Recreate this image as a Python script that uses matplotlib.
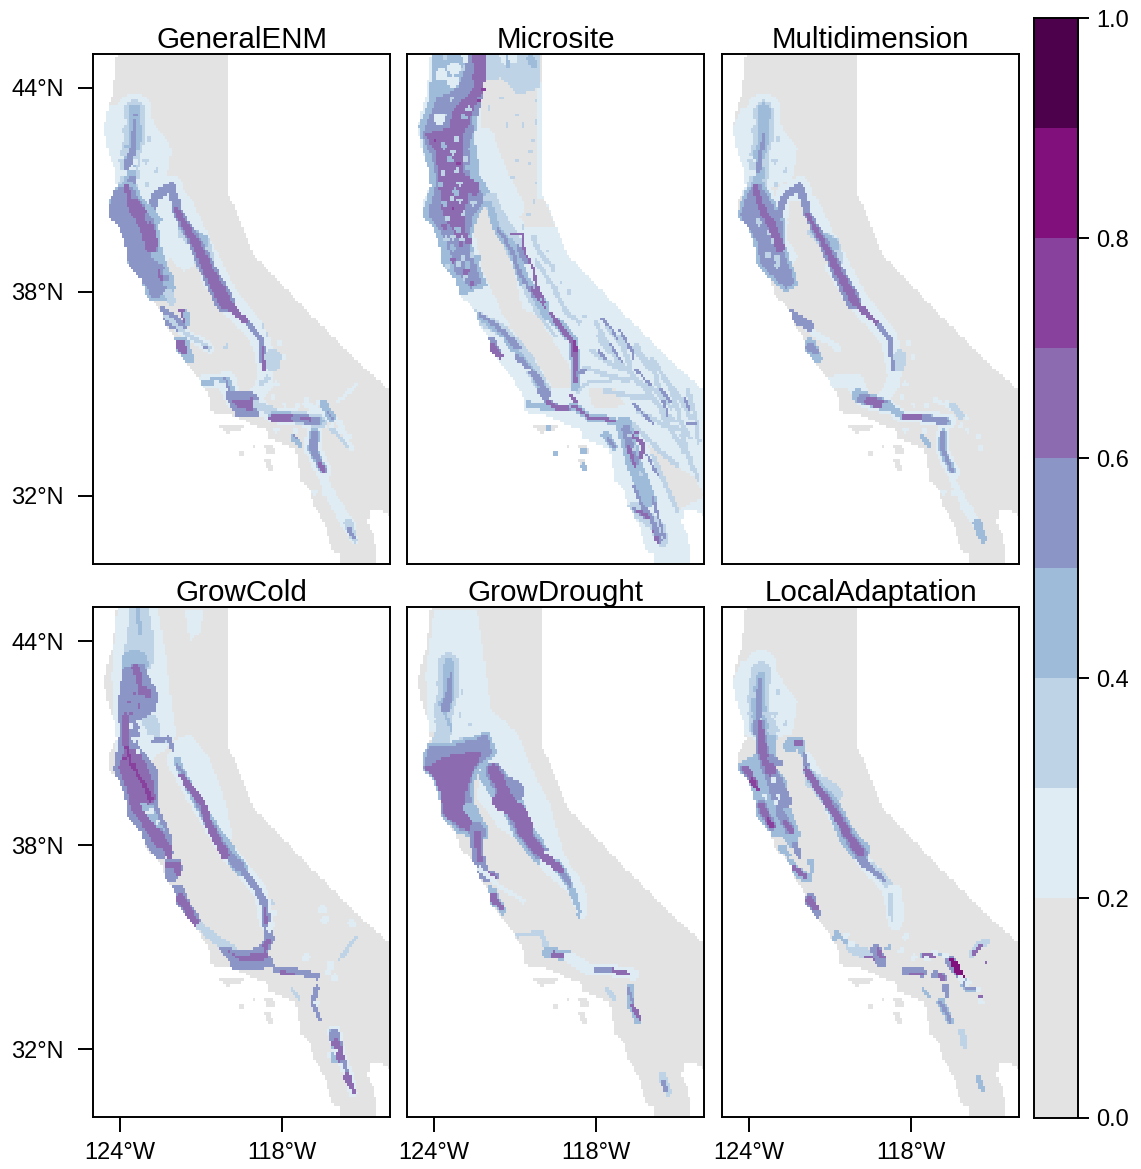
import numpy as np
import matplotlib
matplotlib.use("Agg")
import matplotlib.pyplot as plt
from matplotlib.colors import ListedColormap, BoundaryNorm
from matplotlib.path import Path

plt.rcParams['font.family'] = ['Liberation Sans', 'DejaVu Sans']

W, H = 1141, 1169
titles = ["GeneralENM", "Microsite", "Multidimension", "GrowCold", "GrowDrought", "LocalAdaptation"]
breaks = [0, .2, .3, .4, .5, .6, .7, .8, .9, 1]
colors = ["#E3E3E3", "#E0ECF4", "#BFD3E6", "#9EBCDA", "#8C96C6", "#8C6BB1", "#88419D", "#810F7C", "#4D004B"]
V0, V2, V3, V4, V5, V6, V7, V8 = .1, .25, .35, .45, .55, .65, .75, .85

# outline of the study area, lon/lat
land = [(-124.11,45),(-124.19,44.4),(-124.26,43.8),(-124.44,43.43),(-124.59,42.8),(-124.44,42.16),(-124.2,41.67),
        (-124.11,41.08),(-124.44,40.7),(-124.44,40.2),(-124.07,40),(-123.83,39.5),(-123.7,38.82),(-123.15,38.33),
        (-123.09,37.94),(-122.47,37.47),(-122.35,37.08),(-121.98,36.64),(-121.85,36.2),(-121.42,35.8),(-120.93,35.26),
        (-120.68,34.87),(-120.65,34.48),(-119.69,34.35),(-118.95,34.04),(-118.49,33.94),(-118.46,33.7),(-117.47,33.35),
        (-117.32,32.47),(-116.91,32.13),(-116.85,31.78),(-116.36,31.1),(-116.17,30.41),(-115.86,30.31),(-115.86,30),
        (-114.5,30),(-114.5,30.2),(-114.57,30.8),(-114.81,31.2),(-114.75,31.6),(-114.5,31.63),(-114,31.44),
        (-114,35.12),(-115.12,35.9),(-117.1,37.47),(-119.07,39.12),(-119.44,39.9),(-120,40.93),(-120,45)]
islands = [[(-120.55,34.1),(-119.33,34.1),(-119.55,33.95),(-120.05,33.85),(-120.2,34)],
           [(-119.6,33.3),(-119.42,33.3),(-119.42,33.15),(-119.6,33.15)],
           [(-119.1,33.5),(-119,33.5),(-119,33.42),(-119.1,33.42)],
           [(-118.65,33.5),(-118.25,33.45),(-118.25,33.25),(-118.55,33.25)],
           [(-118.65,33.07),(-118.45,33.05),(-118.3,32.7),(-118.5,32.75)]]

# ridge lines shared by the panels
klamath = [(-123.45,43.35),(-123.45,42.5),(-123.65,41.95),(-123.6,41.5),(-123.75,41.05),(-123.65,40.7),(-123.4,40.3),(-122.95,39.7),(-122.7,39.2)]
arc = [(-122.95,40.15),(-122.65,40.85),(-122.1,41.1),(-121.9,40.5)]
sierra = [(-121.9,40.5),(-121.3,39.6),(-120.7,38.75),(-120.05,37.85),(-119.55,37.35),(-119.25,37.1),(-118.85,36.7),(-118.7,36.3),(-118.6,35.7)]
sierra_south = [(-118.6,35.7),(-118.65,35.3),(-118.95,34.95),(-119.1,34.75)]
tehachapi = [(-120.9,35.35),(-120.0,35.42),(-119.8,34.85),(-119.35,34.72),(-118.95,34.68)]
coast_south = [(-122.3,37.3),(-121.48,36.73),(-120.93,36.49),(-120.68,36.34)]
gabriel = [(-118.95,34.68),(-118.3,34.35),(-117.5,34.32),(-116.6,34.2)]
jacinto = [(-116.8,33.85),(-116.85,33.4),(-116.6,32.95),(-116.45,32.75)]
santa_ana = [(-117.6,33.74),(-117.35,33.5)]
baja = [(-115.55,31.2),(-115.3,30.7)]
lucia = [(-121.75,36.45),(-121.45,36.05)]
bay = [(-122.4,37.3),(-121.75,37.0)]
peninsular = [(-116.6,32.75),(-116.1,31.9),(-115.5,31.1)]
north_coast = [(-124.2,41),(-123.6,41.1),(-123.2,40.6),(-122.75,40.1),(-122.65,39.4),(-122.5,38.9),(-122.2,38.4),(-122.2,37.95),
               (-122.75,37.85),(-123.15,38.3),(-123.65,38.75),(-123.85,39.55),(-124.3,40.1),(-124.45,40.3)]
north_halo = [(-124.6,42.8),(-124.3,43.4),(-123.5,43.55),(-122.9,43),(-122.2,42.2),(-122.4,41.3),(-123.5,41),(-124.3,41.3)]
valley_north = [(-122.45,40.7),(-122.1,40.7),(-121.75,39.9),(-121.1,38.9),(-121.3,38.4),(-122.05,38.9),(-122.6,39.6)]
great_basin = [(-122.7,45),(-120,45),(-120,40.9),(-119.5,39.9),(-120.6,39.9),(-121.3,41),(-122.15,42.1),(-122.3,43.5)]
valley = [(-122.42,40.6),(-122.1,40.7),(-121.74,39.9),(-121,38.6),(-120.75,37.55),(-120.13,37.27),(-118.9,35.7),(-118.84,35.12),
          (-119.64,35.2),(-120.38,36.2),(-121.24,36.98),(-122.23,38.7),(-122.6,40.1)]
mojave_gray = [(-118.3,35.2),(-117.3,35.2),(-116.9,34.65),(-118.1,34.55)]
desert_gray = [(-116.1,33.5),(-114.3,32.5),(-114,32),(-114.9,31.6),(-115.6,32.6)]

# speckle spots around the northern stalk, shared by a few panels
stalk_spots_light = [(-124,42.8),(-124.05,42.3),(-123.9,41.9),(-122.9,42.2),(-123,41.9),(-122.75,41.7),(-123,41.3),(-122.55,41.4),(-123.9,41.5),(-122.9,42.8),(-123.85,43)]
stalk_spots_mid = [(-123.85,42.75),(-123.75,42.4),(-122.95,42.5),(-123.05,41.85),(-123.95,41.85),(-123.9,41.65),(-122.65,41.55),(-123,41.15)]
stalk_holes = [(-123.55,41.65),(-123.2,41.6),(-123.3,41.25),(-123.1,41.05),(-122.95,41.4),(-123.4,41.85)]
edge_spots_south = [(-120.2,35.1),(-120.4,35.35),(-118.2,35.3),(-118.35,34.9),(-117.9,34.7),(-117.4,34.65),(-117.1,34.85),(-116.7,34.75),(-116.15,34.05),(-115.9,33.95),
                    (-115.5,33.75),(-115.4,33.4),(-117.5,33.9),(-118.2,33.95),(-116.3,32.6),(-116.4,32.1),(-116.05,31.6),(-116.8,32.1),(-118.1,36.5),(-117.9,36.1)]

# panel layers: (kind, shape, value, width start, width end), painted in order
general_layers = [
    ("p", north_halo, V2, .1, .1),
    ("s", klamath, V2, .5, .5), ("s", arc, V2, .35, .35), ("s", sierra, V2, .5, .25),
    ("p", valley_north, V2, 0, 0),
    ("p", [(-121.6,38.6),(-120.9,37.9),(-121.1,38.9)], V0, 0, 0),
    ("s", tehachapi, V2, .2, .3), ("s", gabriel, V2, .2, .25), ("s", jacinto, V2, .25, .25),
    ("s", peninsular, V2, .12, .2), ("s", coast_south, V2, .15, .15), ("s", sierra_south, V2, .25, .25), ("s", baja, V2, .15, .12),
    ("s", [(-117.1,34.7),(-115.9,34.2),(-115.5,33.5)], V2, .1, .08), ("s", [(-115.2,35.3),(-115.9,34.8)], V2, .06, .06),
    ("s", klamath[:3], V3, .3, .3), ("s", klamath[:3], V4, .18, .22), ("s", klamath[2:5], V3, .3, .28), ("s", klamath[2:5], V4, .14, .16),
    ("d", stalk_spots_light, V2, .1, .1), ("d", stalk_spots_mid, V3, .08, .08),
    ("s", [(-123.45,43.05),(-123.5,42.3),(-123.7,41.7)], V5, .03, .14),
    ("d", [(-123.45,43.2)], V5, .07, .07), ("s", [(-123.5,41.35),(-123.75,41.05)], V5, .1, .16),
    ("d", stalk_holes, V2, .08, .08),
    ("p", north_coast, V4, 0, .14), ("p", north_coast, V5, 0, .02),
    ("s", [(-123.75,41.15),(-123.6,40.5),(-123.1,39.9),(-122.85,39.3)], V6, .06, .16),
    ("s", [(-123.45,40.55),(-123,39.95),(-122.8,39.45)], V6, .2, .18),
    ("s", [(-122.55,38.6),(-122.45,38.35)], V6, .05, .05),
    ("s", [(-122.75,39.1),(-122.4,38.9)], V4, .1, .1), ("d", [(-122.3,38.6),(-122.25,38.25),(-122.1,38.1)], V4, .12, .12),
    ("s", [(-122.2,37.95),(-122.05,37.7)], V3, .15, .1),
    ("s", arc, V5, .12, .14), ("s", [(-122.9,40.45),(-122.55,40.1)], V4, .12, .08),
    ("s", [(-121.6,39.75),(-120.95,39.4),(-120.85,38.9)], V3, .2, .3), ("s", [(-121.6,39.85),(-121,39.5)], V4, .16, .22),
    ("s", [(-121.9,40.4),(-121.2,39.45),(-120.7,38.6),(-120.1,37.7)], V5, .14, .3),
    ("s", [(-121.9,40.4),(-121.2,39.45),(-120.7,38.6),(-120.1,37.7)], V6, .08, .2),
    ("s", [(-120.1,37.7),(-119.55,37.3),(-119.2,37.05)], V6, .14, .08),
    ("s", [(-119.2,37.05),(-118.75,36.6),(-118.67,35.75)], V5, .09, .08), ("s", [(-118.72,36.35),(-118.65,35.7)], V6, .06, .05),
    ("s", [(-118.33,36.1),(-118.33,35.85)], V3, .25, .2), ("d", [(-118.55,35.45),(-118.75,35.35)], V3, .1, .1),
    ("s", bay, V5, .25, .18), ("s", [(-121.7,37.45),(-121.6,37.15)], V6, .08, .05), ("s", [(-121.55,37.4),(-121.5,37.1)], V4, .08, .07),
    ("s", lucia, V4, .26, .17), ("s", [(-121.75,36.45),(-121.6,36.25)], V6, .16, .12),
    ("s", coast_south, V3, .07, .06), ("d", [(-120.82,36.4),(-120.7,36.32)], V5, .06, .06),
    ("s", tehachapi[:3], V4, .08, .12), ("s", [(-120.1,35.45),(-119.95,35.1),(-119.45,34.9)], V5, .04, .05),
    ("p", [(-119.95,34.95),(-119.05,34.92),(-118.85,34.62),(-119,34.42),(-119.6,34.45)], V5, 0, .12),
    ("p", [(-119.92,34.85),(-119.05,34.88),(-118.95,34.6),(-119.2,34.5),(-119.6,34.6)], V6, 0, 0),
    ("s", [(-118.95,34.7),(-118.3,34.45)], V3, .12, .14),
    ("s", gabriel[1:], V3, .18, .2), ("s", gabriel[1:], V4, .14, .12), ("s", [(-118.3,34.32),(-117.55,34.32)], V6, .13, .13), ("s", [(-117.5,34.3),(-116.75,34.2)], V5, .11, .16),
    ("s", [(-117.25,34.28),(-116.95,34.25)], V6, .05, .05),
    ("s", jacinto[:2], V4, .16, .16), ("s", jacinto[1:], V4, .14, .12), ("s", jacinto[:2], V5, .1, .12), ("s", jacinto[1:], V5, .12, .08), ("s", jacinto[2:], V6, .07, .05),
    ("s", santa_ana, V4, .09, .09), ("s", [(-117.55,33.85),(-117.4,33.65)], V5, .03, .03),
    ("s", [(-116.5,34.75),(-116.15,34.3)], V4, .12, .12), ("s", [(-116.3,34.45),(-116.1,34.25)], V5, .04, .04),
    ("s", [(-116.15,34),(-115.55,33.45)], V3, .07, .06),
    ("s", baja, V3, .14, .09), ("s", [(-115.5,31),(-115.35,30.8)], V5, .06, .06),
    ("d", [(-120.7,36.35),(-120.05,36.4),(-118.55,36.75),(-118.7,37)], V3, .07, .07),
    ("d", edge_spots_south, V2, .08, .08),
]

multi_layers = [
    ("p", north_halo, V2, 0, 0),
    ("s", klamath, V2, .5, .45), ("s", arc, V2, .3, .3), ("s", sierra, V2, .42, .25),
    ("p", valley_north, V0, 0, 0),
    ("s", tehachapi, V2, .18, .25), ("s", gabriel, V2, .18, .22), ("s", jacinto, V2, .2, .2),
    ("s", peninsular, V2, .08, .15), ("s", coast_south, V2, .1, .1), ("s", sierra_south, V2, .2, .2), ("s", baja, V2, .15, .1),
    ("s", [(-117,34.8),(-115.9,34.3)], V2, .07, .05),
    ("s", klamath[:5], V3, .28, .28), ("s", klamath[:3], V4, .2, .16), ("s", klamath[2:5], V4, .12, .16),
    ("d", stalk_spots_light, V2, .1, .1), ("d", stalk_spots_mid, V3, .08, .08),
    ("s", [(-123.45,42.6),(-123.65,41.6)], V5, .03, .1),
    ("p", [(-124,41),(-123.55,41.15),(-123,40.4),(-122.75,40.05),(-122.8,39.4),(-122.5,38.75),(-122.3,38.25),(-122.65,38.1),(-123.3,38.6),(-123.6,38.9),(-123.7,39.5),(-124.2,40.1),(-124.3,40.3)], V4, 0, .1),
    ("p", [(-124,41),(-123.55,41.15),(-123,40.4),(-122.75,40.05),(-122.8,39.4),(-122.5,38.75),(-122.3,38.25),(-122.65,38.1),(-123.3,38.6),(-123.6,38.9),(-123.7,39.5),(-124.2,40.1),(-124.3,40.3)], V5, 0, 0),
    ("d", [(-123.05,39.5),(-123.3,39.1),(-122.95,38.8),(-123.65,40.05),(-122.95,39),(-123.2,39.75)], V3, .1, .1),
    ("s", [(-123.75,41.05),(-123.55,40.5),(-123.1,39.9),(-122.85,39.3)], V6, .09, .14),
    ("s", arc, V5, .1, .12), ("s", [(-121.6,39.75),(-120.9,39.4),(-120.8,39)], V3, .18, .25),
    ("s", [(-121.6,39.8),(-120.9,39.4)], V4, .12, .2),
    ("s", [(-121.9,40.4),(-121.2,39.4),(-120.7,38.6),(-120.1,37.7)], V5, .1, .24),
    ("s", [(-121.85,40.3),(-121.2,39.4),(-120.7,38.6),(-120.05,37.7)], V6, .05, .14),
    ("s", [(-120.05,37.7),(-119.55,37.3),(-119.2,37.05)], V6, .1, .06),
    ("s", [(-119.2,37.05),(-118.75,36.6),(-118.67,35.75)], V5, .07, .07),
    ("s", [(-118.4,36.1),(-118.4,35.8)], V3, .2, .15),
    ("s", bay, V5, .18, .14), ("s", lucia, V4, .2, .13), ("s", [(-121.72,36.4),(-121.55,36.25)], V5, .13, .1),
    ("s", [(-119.95,34.95),(-118.9,34.65)], V4, .2, .18),
    ("s", [(-119.8,34.87),(-118.95,34.7)], V5, .15, .15), ("s", [(-119.55,34.78),(-119.1,34.72)], V6, .13, .13),
    ("s", gabriel, V4, .1, .1), ("s", [(-118.2,34.33),(-117.6,34.32)], V6, .09, .09), ("s", [(-117.5,34.3),(-116.75,34.2)], V5, .1, .12),
    ("s", jacinto, V4, .12, .1), ("s", jacinto, V5, .07, .05), ("s", santa_ana, V4, .07, .07),
    ("s", baja, V4, .14, .1), ("s", [(-116.45,34.65),(-116.15,34.35)], V3, .12, .1),
    ("d", edge_spots_south, V2, .08, .08),
]

cold_layers = [
    ("p", [(-124.1,45),(-122.6,45),(-122.3,43.6),(-122.1,42.2),(-121.9,41.2),(-122.3,40.8),(-123.8,40),(-124.2,40.8),(-124.3,43)], V2, 0, 0),
    ("p", [(-121.6,44.9),(-120.9,44.9),(-121,44.3),(-121.4,44)], V2, 0, 0),
    ("p", [(-121.4,41.3),(-120.7,40.6),(-120.2,39.6),(-119.8,38.2),(-120.2,37.9),(-121.5,39.5),(-122.1,41)], V2, 0, 0),
    ("p", valley_north, V0, 0, 0),
    ("s", [(-123.3,45),(-123.25,44.2),(-123.3,43.5)], V3, .3, .45), ("s", [(-123.35,45),(-123.25,44.2)], V4, .05, .08),
    ("s", klamath[:5], V4, .4, .25), ("s", [(-122.85,41.6),(-122.65,41.1),(-122.3,41.05)], V3, .25, .06),
    ("p", [(-123.8,43.2),(-123.2,43.3),(-122.65,42.4),(-122.75,42),(-123.3,41.7),(-123.4,40.9),(-122.65,40.2),(-122.7,39.2),(-122.2,38.35),(-122.1,37.75),(-122.6,37.6),(-123.15,38.2),(-123.65,38.85),(-123.85,39.55),(-124.15,40.25),(-123.95,41.2),(-124,42.3)], V5, 0, .06),
    ("s", [(-122.7,41.05),(-122.2,41.15),(-122,40.7)], V5, .08, .06),
    ("s", [(-123.4,43.2),(-123.25,42.8)], V6, .12, .1), ("s", [(-123.2,42.55),(-122.95,42.45)], V6, .14, .12),
    ("d", [(-123.45,42.45),(-123.65,42.2),(-123.6,41.9),(-123.3,42.1)], V6, .06, .06),
    ("p", [(-123.75,40.9),(-123.25,40.75),(-122.9,40.15),(-122.72,39.8),(-122.7,39.3),(-123,39.15),(-122.6,38.65),(-122.35,38.3),(-122.6,37.85),(-122.9,38.25),(-123.3,38.75),(-123.6,39.1),(-123.75,39.7),(-124.05,40.3)], V6, 0, 0),
    ("s", [(-123.8,41.8),(-123.75,40.9)], V6, .08, .1),
    ("s", [(-123.75,40.9),(-123.6,40.4),(-123.15,39.85),(-122.85,39.35)], V7, .04, .07),
    ("d", [(-123.85,40.55),(-123.45,40.35),(-123.6,40.65)], V7, .05, .05),
    ("p", [(-123.25,39.3),(-122.8,39.15),(-122.35,38.45),(-122.7,38.55),(-123.1,38.95)], V4, 0, 0),
    ("s", [(-122.75,38.4),(-122.25,37.95),(-122.2,37.7)], V6, .16, .1),
    ("d", [(-123,38.95),(-122.85,39),(-122.6,38.7),(-123.2,41.4),(-123.45,41.1),(-123.3,41.6),(-123.35,40.75),(-123.6,41.5),(-122.85,41.15)], V2, .08, .08),
    ("s", sierra, V2, .3, .2), ("s", [(-121.9,40.5),(-121.4,39.65),(-120.7,38.7),(-120,37.85),(-119.5,37.3)], V4, .1, .22),
    ("s", [(-121.9,40.4),(-121.3,39.55),(-120.75,38.75),(-120.1,37.85),(-119.55,37.35)], V5, .05, .14),
    ("s", [(-121.75,40.05),(-120.95,39.25),(-120.7,38.6),(-120.1,37.7)], V6, .08, .13),
    ("s", [(-119.55,37.35),(-118.95,36.75),(-118.65,36.3),(-118.58,35.75),(-118.45,35.25),(-118.75,34.85)], V5, .08, .16),
    ("s", [(-118.6,36.1),(-118.58,35.7)], V6, .04, .04), ("s", [(-118.5,35.2),(-118.75,34.85)], V6, .08, .12),
    ("d", [(-118.35,35.7),(-118.3,36),(-118.45,35.55)], V2, .1, .1), ("d", [(-118.35,36.3)], V3, .08, .08),
    ("p", [(-122.3,37.55),(-121.8,37.55),(-121.7,37.3),(-122.0,36.95),(-122.3,37)], V5, 0, .04),
    ("s", [(-122.25,37.4),(-121.9,37.45),(-121.85,37.15)], V6, .1, .08),
    ("s", [(-121.85,36.65),(-121.6,36.2),(-121.1,35.65)], V5, .22, .16), ("s", [(-121.75,36.45),(-121.2,35.7)], V6, .13, .1),
    ("s", [(-121,35.6),(-120.4,35.2),(-119.9,34.95)], V3, .12, .16),
    ("p", [(-120.2,34.95),(-119.5,34.8),(-118.75,34.95),(-118.4,34.55),(-118.9,34.4),(-119.7,34.4)], V5, 0, .08),
    ("p", [(-120.0,34.9),(-119.6,34.7),(-119.1,34.8),(-118.55,34.9),(-118.5,34.7),(-118.8,34.55),(-119.5,34.55)], V6, 0, 0),
    ("s", [(-118.4,34.55),(-118.2,34.3),(-117.6,34.3)], V5, .05, .14), ("s", [(-117.4,34.25),(-116.7,34.15)], V5, .08, .12),
    ("s", [(-118,34.25),(-117.6,34.2)], V6, .07, .06),
    ("s", [(-116.7,33.8),(-116.85,33.4),(-116.6,32.85)], V5, .08, .06), ("d", [(-116.7,33.35)], V2, .08, .08), ("s", santa_ana, V3, .06, .06),
    ("s", [(-115.25,35.3),(-115.6,34.9),(-115.9,34.6)], V3, .06, .05), ("d", [(-116.3,34.25),(-116.2,34.45),(-116.4,35.8),(-116.5,36.1),(-115.4,35.7),(-116.05,34.1),(-117.1,34.7)], V2, .12, .12),
    ("s", [(-116.05,32.5),(-115.85,31.8),(-115.55,31.3),(-115.35,30.7)], V2, .2, .12),
    ("s", [(-116.05,32.45),(-115.95,32),(-116.05,31.7)], V4, .16, .12),
    ("s", [(-116.05,32.4),(-115.85,31.85),(-115.6,31.4)], V5, .18, .06),
    ("s", [(-116,32.2),(-115.85,31.75)], V6, .12, .13), ("s", [(-115.6,31.2),(-115.3,30.7)], V6, .12, .05),
    ("d", [(-116.25,31.85),(-116.05,31.95)], V2, .08, .08),
]

drought_core = [(-124.39,40.25),(-124.2,40.9),(-123.47,40.9),(-122.42,41.13),(-122.05,41.27),(-121.8,40.7),(-122.42,40.3),(-122.66,39.8),(-122.6,39.2),
                (-122.1,38.43),(-122.1,38.24),(-123.03,38.43),(-123.71,38.92),(-123.77,39.5),(-124.02,40)]
drought_purple = [(-124.39,40.25),(-123.6,40.6),(-122.5,40.75),(-122.2,40.75),(-122.5,40.25),(-122.75,39.8),(-122.85,39.2),(-122.5,38.55),(-122.45,38.35),(-123,38.5),(-123.65,38.9),(-123.75,39.5),(-124.02,40)]
drought_layers = [
    ("p", [(-124,44.9),(-122.4,44.9),(-122.1,43.3),(-121.9,42),(-120.9,41.3),(-120.4,40.3),(-119.7,39.2),(-119.1,37.5),(-120,37.3),(-121.2,39),(-122,40.5),(-123,40.8),(-124.2,41.4),(-124.3,43)], V2, 0, 0),
    ("p", [(-122.3,40.5),(-121.95,40.25),(-121.2,39),(-120.7,38.1),(-121.6,38.5),(-122.4,39.4)], V2, 0, 0),
    ("s", klamath[:3], V3, .3, .3), ("s", klamath[:3], V4, .14, .2),
    ("s", klamath[2:5], V3, .2, .26), ("s", [(-123.4,43.1),(-123.45,42.4),(-123.6,42)], V5, .02, .14),
    ("s", [(-123.6,41.9),(-123.35,41.4)], V4, .05, .05), ("d", stalk_spots_mid, V3, .06, .06),
    ("p", drought_core, V4, 0, .1), ("p", drought_core, V5, 0, 0),
    ("p", drought_purple, V6, 0, 0),
    ("s", [(-122.7,39.1),(-122.4,38.8)], V4, .16, .16),
    ("s", [(-122.45,38.45),(-122.35,37.6),(-122.1,37.1),(-121.8,37.05)], V5, .2, .16),
    ("s", [(-122.4,38.35),(-122.3,37.55)], V6, .1, .08), ("s", [(-122,37.15),(-121.75,37.05)], V6, .08, .06),
    ("s", [(-121.85,40.05),(-121.1,39.2),(-120.65,38.35),(-120,37.7),(-119.4,37.3)], V4, .38, .26),
    ("s", [(-121.6,39.9),(-121,39.6)], V5, .2, .3),
    ("s", [(-121.8,40.2),(-121.12,39.12),(-120.63,38.33),(-120,37.75),(-119.2,37.3)], V5, .25, .2),
    ("s", [(-121.8,40.2),(-121.12,39.12),(-120.63,38.33),(-120,37.75),(-119.3,37.3)], V6, .18, .14),
    ("s", [(-121.5,39.3),(-120.9,39),(-120.6,38.5)], V6, .28, .22),
    ("s", [(-119.5,37.4),(-118.95,36.8),(-118.7,36.3),(-118.6,35.9)], V4, .16, .08),
    ("s", [(-119.4,37.3),(-118.95,36.85)], V5, .1, .06),
    ("s", [(-119.6,37.5),(-118.7,36.7),(-118.5,36)], V2, .4, .15), ("s", [(-119.4,37.4),(-118.95,36.8),(-118.7,36.3),(-118.6,36.0)], V4, .16, .06),
    ("s", [(-119.35,37.3),(-118.95,36.85)], V5, .1, .06), ("s", [(-119.9,37.65),(-119.25,37.25)], V6, .14, .1),
    ("s", [(-121.9,36.6),(-121.45,36.05)], V4, .2, .1), ("s", [(-121.8,36.45),(-121.5,36.15)], V6, .12, .07),
    ("s", coast_south, V2, .08, .06), ("s", tehachapi, V3, .06, .1),
    ("s", [(-119.8,34.85),(-118.95,34.72)], V4, .16, .16), ("s", [(-119.55,34.78),(-119.05,34.72)], V6, .1, .1),
    ("s", gabriel, V2, .18, .18), ("s", [(-118,34.33),(-117.5,34.32)], V5, .09, .09), ("s", [(-117.35,34.3),(-116.85,34.22)], V6, .08, .08),
    ("s", [(-116.7,33.8),(-116.7,33.3),(-116.45,32.85)], V4, .12, .1), ("s", [(-116.65,33.3),(-116.4,32.9)], V6, .07, .05),
    ("s", [(-116.8,33.75),(-116.65,33.4)], V5, .05, .05),
    ("s", santa_ana, V3, .07, .07), ("s", baja, V3, .12, .1), ("s", [(-115.5,31),(-115.4,30.8)], V5, .06, .05),
]

local_layers = [
    ("p", north_halo, V2, 0, 0),
    ("s", [(-123.55,43.3),(-123.45,42.2),(-123.2,41.4)], V2, .45, .3), ("s", sierra, V2, .25, .2),
    ("p", valley_north, V0, 0, 0),
    ("s", [(-123.55,43.1),(-123.65,42.4),(-123.6,41.5)], V3, .3, .34), ("s", [(-123.35,41.5),(-123.3,41.1)], V3, .3, .25),
    ("s", [(-123.55,43),(-123.65,42.4),(-123.6,41.5)], V4, .12, .26),
    ("d", stalk_spots_mid, V3, .08, .08),
    ("s", [(-123.6,42.9),(-123.65,42.1),(-123.6,41.3)], V5, .05, .16),
    ("d", stalk_holes, V3, .07, .07),
    ("p", [(-124.4,40.35),(-123.7,40.6),(-123.7,41.3),(-123.1,41.2),(-123.1,40.3),(-122.7,39.9),(-122.6,39.2),(-122.15,38.3),(-122.4,37.95),(-122.75,38.3),(-123.1,38.3),(-123.7,38.95),(-123.8,39.5),(-124.3,40.05)], V4, 0, .06),
    ("s", [(-123.6,41.3),(-123.47,40.69),(-122.97,39.7),(-122.75,39.3)], V5, .16, .26),
    ("s", [(-123.59,41.6),(-123.47,40.69),(-123.2,40.2)], V6, .08, .16),
    ("s", [(-123.2,40.55),(-122.85,40.4)], V5, .1, .08),
    ("s", [(-124.3,40.3),(-124,40),(-123.75,39.75)], V5, .06, .1), ("s", [(-124.1,40.25),(-123.75,39.75)], V6, .1, .09), ("s", [(-123.9,39.9),(-123.7,39.65)], V7, .07, .07),
    ("s", [(-123.55,39.15),(-123.15,38.55)], V5, .16, .12), ("s", [(-123.55,39.15),(-123.15,38.55)], V6, .1, .09), ("s", [(-123.3,38.75),(-123.15,38.55)], V7, .06, .06),
    ("s", [(-122.85,38.95),(-122.48,38.45)], V5, .13, .14), ("s", [(-122.65,38.65),(-122.45,38.45)], V6, .09, .1),
    ("s", [(-122.3,38),(-122.15,37.7)], V5, .09, .08), ("s", [(-122.75,37.9),(-122.55,37.7)], V4, .12, .08), ("d", [(-122.9,39.45),(-123.1,39.9),(-123.4,39.45),(-123,39.25)], V2, .08, .08),
    ("s", [(-122.45,40.95),(-122.1,41),(-122,40.7)], V4, .22, .1), ("s", [(-122.25,40.98),(-122,41)], V6, .08, .05),
    ("s", [(-121.95,40.7),(-121.86,40.2),(-121.4,39.6)], V5, .06, .16),
    ("s", [(-121.6,39.9),(-120.9,39.5)], V3, .25, .3),
    ("s", [(-121.86,40.2),(-120.87,39.12),(-120.3,38.2),(-119.88,37.84)], V4, .14, .3),
    ("s", [(-121.7,39.95),(-120.87,39.12),(-120.25,38.2),(-119.85,37.75)], V5, .08, .2),
    ("s", [(-121.85,40.2),(-121.4,39.6),(-120.9,39.05),(-120.25,38.2),(-119.85,37.75)], V6, .1, .12),
    ("s", [(-119.5,37.4),(-118.95,36.95),(-118.65,36.6)], V3, .14, .14), ("s", [(-119.85,37.55),(-119.4,37.25),(-118.95,36.95)], V5, .12, .06), ("s", [(-118.65,36.6),(-118.55,35.9)], V2, .25, .25),
    ("s", [(-118.75,36.5),(-118.7,35.8)], V3, .08, .06),
    ("s", [(-122.5,37.45),(-122.23,37.2),(-121.85,37.05)], V4, .14, .16), ("s", [(-122.35,37.35),(-121.9,37.05)], V6, .08, .07),
    ("s", [(-121.7,37.5),(-121.65,37.25)], V4, .1, .08),
    ("s", [(-121.72,36.4),(-121.43,35.95)], V5, .17, .08), ("s", [(-121.72,36.35),(-121.55,36.15)], V6, .13, .1),
    ("s", [(-120.85,35.2),(-120.75,35.4),(-120.2,35)], V4, .07, .07),
    ("s", [(-120.2,35),(-119.85,34.85),(-119.15,34.72)], V3, .16, .14),
    ("s", [(-119.7,34.72),(-119,34.65)], V6, .07, .07), ("s", [(-119.3,34.95),(-119.1,34.55)], V5, .15, .15), ("s", [(-119.2,34.9),(-119.1,34.7)], V6, .07, .07),
    ("s", [(-118.95,34.95),(-118.75,35)], V4, .05, .05),
    ("s", [(-118.2,34.28),(-117.55,34.25)], V5, .13, .13), ("s", [(-118,34.22),(-117.6,34.22)], V6, .06, .06),
    ("s", [(-117.1,34.2),(-116.75,34.1)], V5, .12, .1), ("s", [(-116.95,34.2),(-116.8,34.05)], V6, .06, .06),
    ("s", [(-117.6,34.75),(-116.9,34.78)], V4, .07, .06), ("s", [(-117.5,34.75),(-117.15,34.75)], V6, .1, .09),
    ("s", [(-116.6,34.65),(-116.12,34.1)], V5, .14, .11), ("p", [(-116.5,34.62),(-116.25,34.45),(-116.1,34.12),(-116.3,34.25)], V8, 0, .05),
    ("s", [(-116.05,34),(-115.95,33.8),(-115.6,33.75)], V4, .12, .07), ("s", [(-116.05,34),(-115.95,33.8),(-115.6,33.75)], V5, .06, .04),
    ("s", [(-115.75,34.75),(-115.5,35.05),(-115.2,35.15)], V3, .1, .12), ("s", [(-115.7,34.8),(-115.4,35.05)], V6, .06, .06),
    ("d", [(-115.2,34.55),(-115.4,33.55)], V6, .06, .06),
    ("s", [(-117.55,33.8),(-117.35,33.55)], V4, .05, .05), ("s", [(-116.7,33.85),(-116.68,33.6)], V5, .1, .08),
    ("s", [(-116.9,33.4),(-116.55,32.85)], V4, .12, .1), ("s", [(-116.9,33.4),(-116.55,32.85)], V5, .06, .06),
    ("s", [(-116.1,32.5),(-116,32.1)], V3, .1, .1), ("d", edge_spots_south[:12], V2, .1, .1),
    ("s", [(-115.5,31.15),(-115.35,30.8)], V4, .08, .08),
]

# Microsite is much patchier, so it gets extra streaks and spots
micro_streaks = [[(-118,37.1),(-117.6,36.5),(-117.2,35.95)], [(-117.6,37),(-117,36.4),(-116.75,35.85)], [(-117.2,36.7),(-116.5,36.2),(-116,35.7)],
                 [(-116.5,36.4),(-115.8,35.6),(-115.6,34.9)], [(-118.2,36.3),(-117.5,35.9),(-116.9,35.7)], [(-116.7,35.5),(-115.8,35.1),(-115.2,34.6)],
                 [(-115.5,35.5),(-114.9,34.9),(-114.5,34.3)], [(-114.6,35.1),(-114.3,34.3),(-114.2,33.6)], [(-117.7,35.1),(-116.8,34.95),(-116,34.9)],
                 [(-116.4,34.5),(-115.5,34.1),(-114.6,33.9)], [(-116.6,34.1),(-115.6,33.3),(-115,32.9)], [(-114.8,33.8),(-114.5,33),(-114.2,32.5)],
                 [(-115.9,33.2),(-115.4,32.3),(-115,31.6)], [(-118.4,35.8),(-117.6,35.55),(-116.8,35.4)], [(-116.2,35.2),(-115.6,34.6),(-115.1,34.2)],
                 [(-117.3,36.1),(-116.8,35.7),(-116.3,35.25)], [(-115.9,36),(-115.3,35.3),(-114.9,34.4)], [(-117.9,36.7),(-117.5,36.2)],
                 [(-114.95,34.3),(-114.5,33.7)], [(-115.6,34.5),(-115.1,33.8),(-114.7,33.3)], [(-120.7,38.2),(-120.1,37.3),(-119.5,36.7)],
                 [(-119.6,38.2),(-119.1,37.4),(-118.6,37.1)], [(-120.2,38.9),(-119.7,38.3)], [(-120.35,39.6),(-120,39.05),(-119.6,38.75)]]
micro_strong = [[(-117.75,37.2),(-117.4,36.9),(-117.2,36.6)], [(-117.1,36.85),(-116.65,36.25),(-116.6,36)], [(-117.5,36.5),(-117,35.9)],
                [(-116.6,34.7),(-115.9,34.15)], [(-115.5,34.8),(-115.35,34.4)], [(-114.65,34.15),(-114.25,34.1)],
                [(-116.1,33.2),(-115.7,32.6)], [(-115.9,31.95),(-115.45,30.75)], [(-116.2,31.7),(-115.95,31.4),(-115.8,30.9)],
                [(-116.5,35.7),(-116,35.3)], [(-115.6,35.15),(-115.25,34.8)], [(-117.9,36.3),(-117.65,36)], [(-114.7,34.85),(-114.55,34.55)]]
micro_holes_high = [(-122.9,44.55),(-123.35,43.7),(-123.15,42.5),(-122.85,41.9),(-123.05,41.2),(-123.35,40.75),(-122.9,40.3),(-123.3,39.6),(-122.9,39),
                    (-122.85,38.45),(-123.55,39.55),(-122.7,43.4),(-123.6,44.9),(-123.6,43.2),(-123.15,41.55),(-123.5,38.75),(-123.3,42.1),(-123.7,41.5),
                    (-122.55,40.6),(-123.05,40.7),(-123.5,40.15),(-122.95,39.55),(-123.1,38.85),(-122.6,39.1)]
micro_mid_spots = [(-123.65,42.3),(-123.4,41.9),(-123.75,41.15),(-123.2,40.95),(-122.7,41.65),(-122.6,42.2),(-123.6,40.6),(-122.5,43.05),(-122.9,43.15),(-123.1,39.85),(-123.3,39.3),(-122.75,38.8),(-122.35,39)]
micro_purple_spots = [(-122.35,44.7),(-122.5,44.3),(-122.25,43.95),(-122.75,43.6),(-122.8,42.95),(-123.75,42.45),(-124.1,42.55),(-123.55,41.4),(-123.65,40.85),(-123.35,41.25),(-123,40.9),(-123.15,40.4),(-123.6,39.95),(-123,39.4),(-122.7,39.5),(-123.3,38.95),(-122.8,38.6),(-122.6,38.25)]
micro_spots = [(-123.75,44.55),(-123.95,44.05),(-121.9,42.55),(-121.55,42.05),(-120.35,42.45),(-121.1,41.35),(-120.45,41.8),(-120.2,41.2),(-120.3,40.65),
               (-120.7,39.9),(-120.2,39.6),(-119.8,39.2),(-119.6,38.6),(-119.3,38.3),(-119,38),(-118.4,37.3),(-121.5,43.7),(-120.9,43.2),(-120.7,42.9),
               (-121.3,42.9),(-120.2,43),(-120.4,42.1),(-120.9,41.9),(-121.6,41.1),(-120.05,41.9),(-120.15,43.6),(-121.95,43.4),(-121.5,41.7),(-120.9,40.8),(-120.5,40.3)]
micro_layers = [
    ("l", None, V2, 0, 0),
    ("p", great_basin, V0, 0, 0), ("p", valley, V0, 0, 0),
    ("p", mojave_gray, V0, 0, 0), ("p", desert_gray, V0, 0, 0),
    ("d", micro_spots, V3, .06, .06),
    ("s", [(-122.2,42.5),(-121.7,41.5),(-121,40.5)], V2, .35, .3), ("s", [(-120.05,44.1),(-120.05,40.8)], V2, .08, .08),
    ("p", [(-122.1,45),(-120.05,45),(-120.05,44),(-120.9,43.8),(-121.5,44.3),(-122.1,44.2)], V3, 0, 0),
    ("p", [(-121.6,45),(-120.95,45),(-120.95,44.75),(-121.4,44.7)], V2, 0, 0), ("s", [(-120.4,44.85),(-120.3,44.7)], V4, .12, .12),
    ("s", [(-121.75,44.7),(-120.9,44.4)], V3, .06, .06), ("s", [(-121.3,44.9),(-121.25,44.6)], V4, .06, .06),
    ("p", [(-124,45),(-123.1,45),(-122.4,43.9),(-122.55,42.5),(-122.35,41.4),(-121.9,40.85),(-122.4,40.3),(-122.7,39.5),(-122.1,38.2),(-123.15,37.9),(-123.75,38.9),(-124,39.9),(-124.4,40.3),(-124.1,41),(-124.35,42.3),(-124.5,42.9),(-124.1,43.7)], V4, 0, .05),
    ("p", [(-124.45,42.6),(-123.9,43.7),(-123.1,44),(-122.7,45),(-122.2,45),(-122.15,43.8),(-122.65,42.4),(-122.7,41.2),(-122,40.8),(-122.55,40.2),(-122.75,39.5),(-122.25,38.3),(-122.6,38.1),(-123.2,38.6),(-123.55,39.5),(-124.2,40.3),(-123.9,41.3),(-124.1,42)], V5, 0, 0),
    ("p", [(-124.35,42.65),(-123.4,42.85),(-123.35,43.3),(-122.4,44.1),(-122.4,43.6),(-122.9,42.6),(-122.95,41.5),(-122.3,41.2),(-122.4,40.85),(-122.75,40.9),(-122.85,40.2),(-122.75,39.4),(-123.15,39.6),(-123.7,40.35),(-123.85,41.4),(-123.9,42.05)], V6, 0, 0),
    ("s", [(-122.35,45),(-122.25,44.4),(-122.35,43.9)], V6, .2, .12),
    ("d", micro_purple_spots, V6, .09, .09),
    ("d", [(-122.15,43.95),(-123.95,42.45),(-123.15,40.95),(-123.3,40.45),(-123.1,41.8),(-122.35,43.6)], V7, .06, .06),
    ("d", micro_mid_spots, V4, .1, .1),
    ("d", micro_holes_high, V3, .08, .08),
    ("d", [(-123.8,43.1),(-123.7,44.4),(-122.6,37.85),(-122.1,37.95),(-123.25,44.6),(-123.3,44.2)], V2, .18, .18),
    ("s", [(-121.9,40.75),(-121.7,40.3),(-121.3,39.75),(-120.95,39.2)], V3, .2, .3),
    ("s", [(-121.95,40.6),(-121.7,39.9),(-121.1,39.3),(-120.7,38.4),(-120,37.6)], V4, .1, .2),
    ("s", [(-121.65,39.9),(-121.1,39.2),(-120.85,38.6),(-120.35,37.9)], V5, .05, .07),
    ("s", [(-121.1,39.7),(-120.75,39.75),(-120.65,39.15),(-120.35,38.75),(-120.15,38.05),(-119.9,37.7)], V6, .04, .05),
    ("s", [(-120.85,39.3),(-120.6,38.9)], V5, .08, .08), ("s", [(-120.4,38.1),(-119.85,37.5),(-119.6,37.5)], V6, .05, .04),
    ("s", [(-122.5,37.3),(-121.5,36.9),(-120.6,36.1),(-119.9,35.1)], V3, .18, .2),
    ("s", [(-122.4,37.3),(-121.6,36.85),(-120.7,36),(-120,35.25)], V4, .08, .12),
    ("s", [(-122.3,37.35),(-121.6,36.95),(-120.9,36.4)], V5, .05, .1), ("s", [(-120.9,36.1),(-120.1,35.4),(-119.8,35)], V5, .08, .1),
    ("d", [(-121.5,36.6),(-121.1,36.2),(-120.5,35.7),(-121.3,37.05)], V2, .08, .08),
    ("s", [(-121.9,36.55),(-121.55,36.15)], V5, .14, .08), ("s", [(-121.85,36.4),(-121.55,36.1)], V6, .1, .08),
    ("s", [(-119.9,37.4),(-119.3,37),(-118.85,36.6),(-118.75,35.9),(-118.75,35.2)], V4, .14, .16),
    ("s", [(-119.7,37.4),(-119.3,36.95),(-118.85,36.55),(-118.75,36),(-118.75,35.4)], V6, .05, .1),
    ("s", [(-118.8,36.55),(-118.75,36.3)], V7, .05, .05), ("s", [(-118.7,35.6),(-118.3,35.75)], V5, .06, .06),
    ("s", [(-118.7,35.05),(-118.3,35.35),(-117.5,35.35)], V3, .05, .05),
    ("s", [(-120.5,34.7),(-119.8,34.6),(-118.9,34.6)], V4, .1, .1),
    ("s", [(-120.1,35.1),(-119.8,34.8),(-119.4,34.6),(-118.85,34.55)], V5, .09, .08),
    ("s", [(-119.75,34.75),(-119.3,34.55),(-118.9,34.65)], V6, .07, .07), ("s", [(-118.9,34.95),(-118.75,34.75)], V6, .05, .06),
    ("s", [(-118.85,34.65),(-118.2,34.3),(-117.55,34.25),(-116.95,34.1),(-116.5,33.9)], V4, .12, .12),
    ("s", [(-118.85,34.65),(-118.2,34.3),(-117.55,34.25),(-117,34.1),(-116.5,33.85)], V6, .05, .05),
    ("s", [(-116.95,34.1),(-116.8,33.6),(-116.6,33),(-116.3,32.4),(-116.05,31.9)], V4, .25, .22),
    ("s", [(-116.9,34),(-116.75,33.5),(-116.55,33)], V5, .12, .12), ("s", [(-116.8,33.45),(-116.55,32.9)], V6, .05, .05),
    ("d", [(-116.75,33.8),(-116.55,33.4),(-116.35,32.65)], V3, .07, .07),
    ("s", [(-116.6,33.75),(-116.2,33.5),(-116.35,33.15)], V6, .06, .07),
    ("s", [(-117.65,33.8),(-117.3,33.45)], V4, .12, .1), ("s", [(-117.55,33.7),(-117.35,33.45)], V5, .06, .06),
    ("s", [(-116.55,31.65),(-115.7,31.1),(-115.55,30.7)], V3, .22, .2), ("s", [(-116.6,31.6),(-115.95,31.35),(-115.65,30.7)], V5, .06, .09),
    ("s", [(-116.6,32.3),(-116.1,31.35)], V5, .05, .05), ("s", [(-116.4,31.55),(-116,31.35)], V6, .05, .04),
    ("s", [(-115.85,31.05),(-115.7,30.6)], V6, .05, .05),
    ("d", [(-119.25,34.0),(-119.75,34),(-119.5,33.23),(-118.45,33.35),(-118.4,33.2),(-118.45,32.88),(-118.38,32.75)], V4, .1, .1),
]
for s in micro_streaks:
    micro_layers.append(("s", s, V3, .07, .07))
for s in micro_strong:
    micro_layers.append(("s", s, V5, .04, .04))

panel_layers = [general_layers, micro_layers, multi_layers, cold_layers, drought_layers, local_layers]

res = 1 / 12
xs = np.arange(-125, -114 + res / 2, res)
ys = np.arange(30, 45 + res / 2, res)
xc = (xs[:-1] + xs[1:]) / 2
yc = (ys[:-1] + ys[1:]) / 2
gx, gy = np.meshgrid(xc, yc)
pts = np.column_stack([gx.ravel(), gy.ravel()])


def in_poly(poly):
    return Path(poly + [poly[0]]).contains_points(pts).reshape(gx.shape)


def near_line(line, w0, w1):
    # line widths run from w0 to w1; lon is squeezed as on the map
    line = np.array(line, float)
    if len(line) == 1:
        d = np.hypot((gx - line[0, 0]) * .8, gy - line[0, 1])
        return d < w0
    seg = np.hypot(np.diff(line[:, 0]) * .8, np.diff(line[:, 1]))
    cum = np.concatenate([[0], np.cumsum(seg)]) / seg.sum()
    out = np.zeros(gx.shape, bool)
    for i in range(len(line) - 1):
        ax_, ay_ = line[i]
        bx_, by_ = line[i + 1]
        dx, dy = (bx_ - ax_) * .8, by_ - ay_
        t = np.clip(((gx - ax_) * .8 * dx + (gy - ay_) * dy) / (dx * dx + dy * dy), 0, 1)
        d = np.hypot((gx - ax_) * .8 - t * dx, (gy - ay_) - t * dy)
        u = cum[i] + t * (cum[i + 1] - cum[i])
        out |= d < w0 + (w1 - w0) * u
    return out


land_mask = in_poly(land)
for isl in islands:
    land_mask |= in_poly(isl)


def make_grid(layers):
    z = np.full(gx.shape, V0)
    for kind, shape, val, w0, w1 in layers:
        if kind == "l":
            m = in_poly(land)
        elif kind == "p":
            m = in_poly(shape)
            if w1 > 0:
                m |= near_line(shape + [shape[0]], w1, w1)
        elif kind == "s":
            m = near_line(shape, w0, w1)
        else:
            m = np.zeros(gx.shape, bool)
            for p in shape:
                m |= near_line([p], w0, w0)
        z[m] = val
    return np.ma.masked_where(~land_mask, z)


cmap = ListedColormap(colors)
norm = BoundaryNorm(breaks, cmap.N)
lefts = [93, 407, 722]
tops = [54, 607]
pw, ph = 297, 510

fig = plt.figure(figsize=(W / 100, H / 100), dpi=100)
for i, name in enumerate(titles):
    ax = fig.add_axes([lefts[i % 3] / W, 1 - (tops[i // 3] + ph) / H, pw / W, ph / H])
    ax.pcolormesh(xs, ys, make_grid(panel_layers[i]), cmap=cmap, norm=norm, rasterized=True)
    ax.set_xlim(-125, -114)
    ax.set_ylim(30, 45)
    ax.set_title(name, fontsize=21.3, pad=3.2)
    for s in ax.spines.values():
        s.set_linewidth(1.4)
    ax.set_xticks([-124, -118] if i >= 3 else [])
    ax.set_xticklabels(["124°W", "118°W"] if i >= 3 else [])
    ax.set_yticks([32, 38, 44] if i % 3 == 0 else [])
    ax.set_yticklabels(["32°N", "38°N", "44°N"] if i % 3 == 0 else [])
    ax.tick_params(axis='both', length=11, width=1.4, labelsize=17, pad=7)
    ax.tick_params(axis='y', pad=10)

cax = fig.add_axes([1034 / W, 1 - 1118 / H, 44 / W, 1100 / H])
cb_vals = np.array([(a + b) / 2 for a, b in zip(breaks[:-1], breaks[1:])])
cax.pcolormesh([0, 1], breaks, cb_vals.reshape(-1, 1), cmap=cmap, norm=norm)
cax.set_xticks([])
cax.set_ylim(0, 1)
cax.yaxis.tick_right()
cax.set_yticks([0, .2, .4, .6, .8, 1])
cax.set_yticklabels(["0.0", "0.2", "0.4", "0.6", "0.8", "1.0"])
cax.tick_params(axis='y', length=8, width=1.4, labelsize=17, pad=5)
for s in cax.spines.values():
    s.set_linewidth(1.4)

fig.savefig("out.png", dpi=100)
